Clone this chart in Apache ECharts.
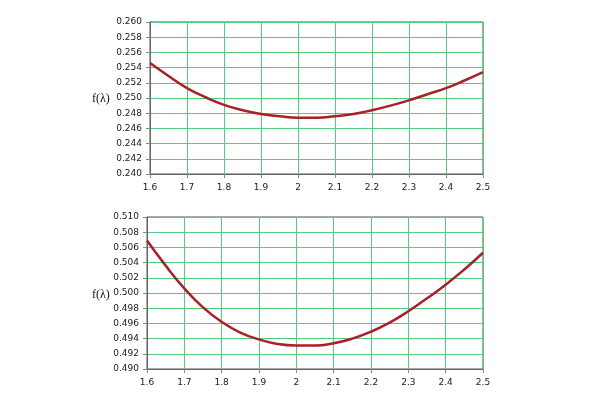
<!DOCTYPE html>
<html>
<head>
<meta charset="utf-8">
<script src="https://cdn.jsdelivr.net/npm/echarts@6/dist/echarts.min.js"></script>
<style>
html, body { margin: 0; padding: 0; background: #fff; }
#main { width: 600px; height: 400px; }
</style>
</head>
<body>
<div id="main"></div>
<script>
// lambda values (x axis), read every 0.05
var lambdas = [1.60, 1.65, 1.70, 1.75, 1.80, 1.85, 1.90, 1.95, 2.00, 2.05,
	2.10, 2.15, 2.20, 2.25, 2.30, 2.35, 2.40, 2.45, 2.50];
// upper panel f(lambda)
var topValues = [0.2546, 0.2529, 0.2513, 0.2501, 0.2491, 0.2484, 0.2479, 0.2476, 0.2474, 0.2474,
	0.2476, 0.2479, 0.2484, 0.2490, 0.2497, 0.2505, 0.2513, 0.2523, 0.2534];
// lower panel f(lambda)
var bottomValues = [0.5069, 0.5036, 0.5006, 0.4981, 0.4962, 0.4948, 0.4939, 0.4933, 0.4931, 0.4931,
	0.4934, 0.4940, 0.4949, 0.4961, 0.4976, 0.4993, 0.5011, 0.5031, 0.5053];

var lineColor = '#a8202a';
var gridGreen = '#52cc7e';
var labelFont = { fontFamily: 'DejaVu Sans', fontSize: 9, color: '#1a1a1a' };

function pairs(xs, ys) {
	var out = [];
	for (var i = 0; i < xs.length; i++) {
		out.push([xs[i], ys[i]]);
	}
	return out;
}

function makeX(idx) {
	return {
		type: 'value',
		gridIndex: idx,
		min: 1.6,
		max: 2.5,
		interval: 0.1,
		axisLine: { show: true, lineStyle: { color: '#666' } },
		axisTick: { show: true, length: 4, lineStyle: { color: '#888' } },
		axisLabel: {
			margin: 9,
			fontFamily: labelFont.fontFamily,
			fontSize: labelFont.fontSize,
			color: labelFont.color,
			formatter: function (v) { return (Math.round(v * 10) / 10) + ''; }
		},
		splitLine: { show: true, lineStyle: { color: gridGreen, width: 1 } }
	};
}

function makeY(idx, min, max) {
	return {
		type: 'value',
		gridIndex: idx,
		min: min,
		max: max,
		interval: 0.002,
		axisLine: { show: true, lineStyle: { color: '#666' } },
		axisTick: { show: true, length: 4, lineStyle: { color: '#888' } },
		axisLabel: {
			margin: 8,
			fontFamily: labelFont.fontFamily,
			fontSize: labelFont.fontSize,
			color: labelFont.color,
			formatter: function (v) { return v.toFixed(3); }
		},
		splitLine: { show: true, lineStyle: { color: gridGreen, width: 1 } }
	};
}

var myChart = echarts.init(document.getElementById('main'), null, { renderer: 'canvas' });

var option = {
	backgroundColor: '#ffffff',
	animation: false,
	grid: [
		{ left: 150, right: 117, top: 22, height: 152, show: true, borderColor: '#555', borderWidth: 1 },
		{ left: 147, right: 117, top: 217, height: 152, show: true, borderColor: '#555', borderWidth: 1 }
	],
	xAxis: [makeX(0), makeX(1)],
	yAxis: [makeY(0, 0.240, 0.260), makeY(1, 0.490, 0.510)],
	graphic: [
		{ type: 'text', left: 92, top: 93, style: { text: 'f(\u03bb)', font: '12px "Liberation Serif"', fill: '#111' } },
		{ type: 'text', left: 92, top: 289, style: { text: 'f(\u03bb)', font: '12px "Liberation Serif"', fill: '#111' } }
	],
	series: [{
		type: 'line',
		xAxisIndex: 0,
		yAxisIndex: 0,
		smooth: 0.5,
		symbol: 'none',
		lineStyle: { color: lineColor, width: 2.5 },
		data: pairs(lambdas, topValues)
	}, {
		type: 'line',
		xAxisIndex: 1,
		yAxisIndex: 1,
		smooth: 0.5,
		symbol: 'none',
		lineStyle: { color: lineColor, width: 2.5 },
		data: pairs(lambdas, bottomValues)
	}]
};
myChart.setOption(option);
</script>
</body>
</html>
